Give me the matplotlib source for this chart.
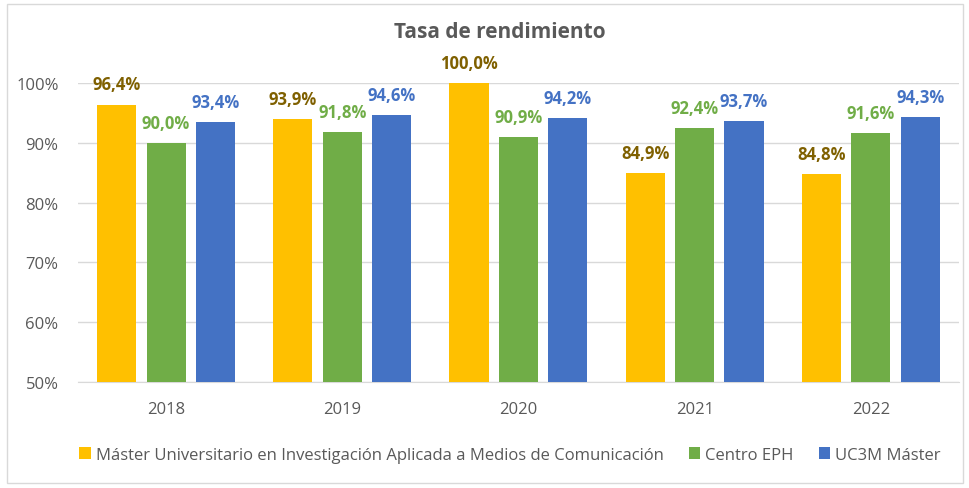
import matplotlib
matplotlib.use("Agg")
import matplotlib.pyplot as plt
from matplotlib.patches import Rectangle
import numpy as np

plt.rcParams['font.family'] = ['Open Sans', 'DejaVu Sans']

years = ["2018", "2019", "2020", "2021", "2022"]
series_names = ["Máster Universitario en Investigación Aplicada a Medios de Comunicación",
                "Centro EPH", "UC3M Máster"]
master = [96.4, 93.9, 100.0, 84.9, 84.8]
centro = [90.0, 91.8, 90.9, 92.4, 91.6]
uc3m = [93.4, 94.6, 94.2, 93.7, 94.3]
yticks = [50, 60, 70, 80, 90, 100]

bar_colors = ["#FFC000", "#70AD47", "#4472C4"]
label_colors = ["#7F6000", "#70AD47", "#4472C4"]

fig = plt.figure(figsize=(9.69, 4.89), dpi=100)
ax = fig.add_axes([78/969, 1-383/489, 881/969, 299/489])

x = np.arange(len(years))
width = 0.222
offsets = [-0.281, 0.0, 0.28]
for vals, off, bc, lc, name in zip([master, centro, uc3m], offsets, bar_colors, label_colors, series_names):
    bars = ax.bar(x + off, vals, width, color=bc, label=name, zorder=3)
    for b, v in zip(bars, vals):
        ax.annotate(f"{v:.1f}%".replace('.', ','), (b.get_x() + b.get_width()/2, v),
                    xytext=(0, 8), textcoords="offset points", ha="center", va="bottom",
                    fontsize=12, fontweight="bold", color=lc, annotation_clip=False)

ax.set_xlim(-0.5, len(years) - 0.5)
ax.set_ylim(50, 100)
ax.set_yticks(yticks)
ax.set_yticklabels([f"{t}%" for t in yticks])
ax.set_xticks(x)
ax.set_xticklabels(years)
ax.grid(axis="y", color="#D9D9D9", linewidth=1, zorder=0)
for s in ["top", "right", "left"]:
    ax.spines[s].set_visible(False)
ax.spines["bottom"].set_color("#D9D9D9")
ax.tick_params(axis="both", length=0, labelsize=12, labelcolor="#595959")
ax.tick_params(axis="x", pad=14)
ax.tick_params(axis="y", pad=14)

fig.text(500/969, 1-33/489, "Tasa de rendimiento", ha="center", va="center",
         fontsize=15, fontweight="bold", color="#595959")

leg = fig.legend(loc="center", bbox_to_anchor=(510/969, 1-456/489), ncol=3, frameon=False,
                 fontsize=12, handlelength=0.7, handleheight=0.7, handletextpad=0.3,
                 columnspacing=1.5, labelcolor="#595959")

fig.patches.append(Rectangle((7/969, 5/489), 956/969, 479/489, transform=fig.transFigure,
                             fill=False, edgecolor="#D9D9D9", linewidth=1))

fig.savefig("out.png", dpi=100)
